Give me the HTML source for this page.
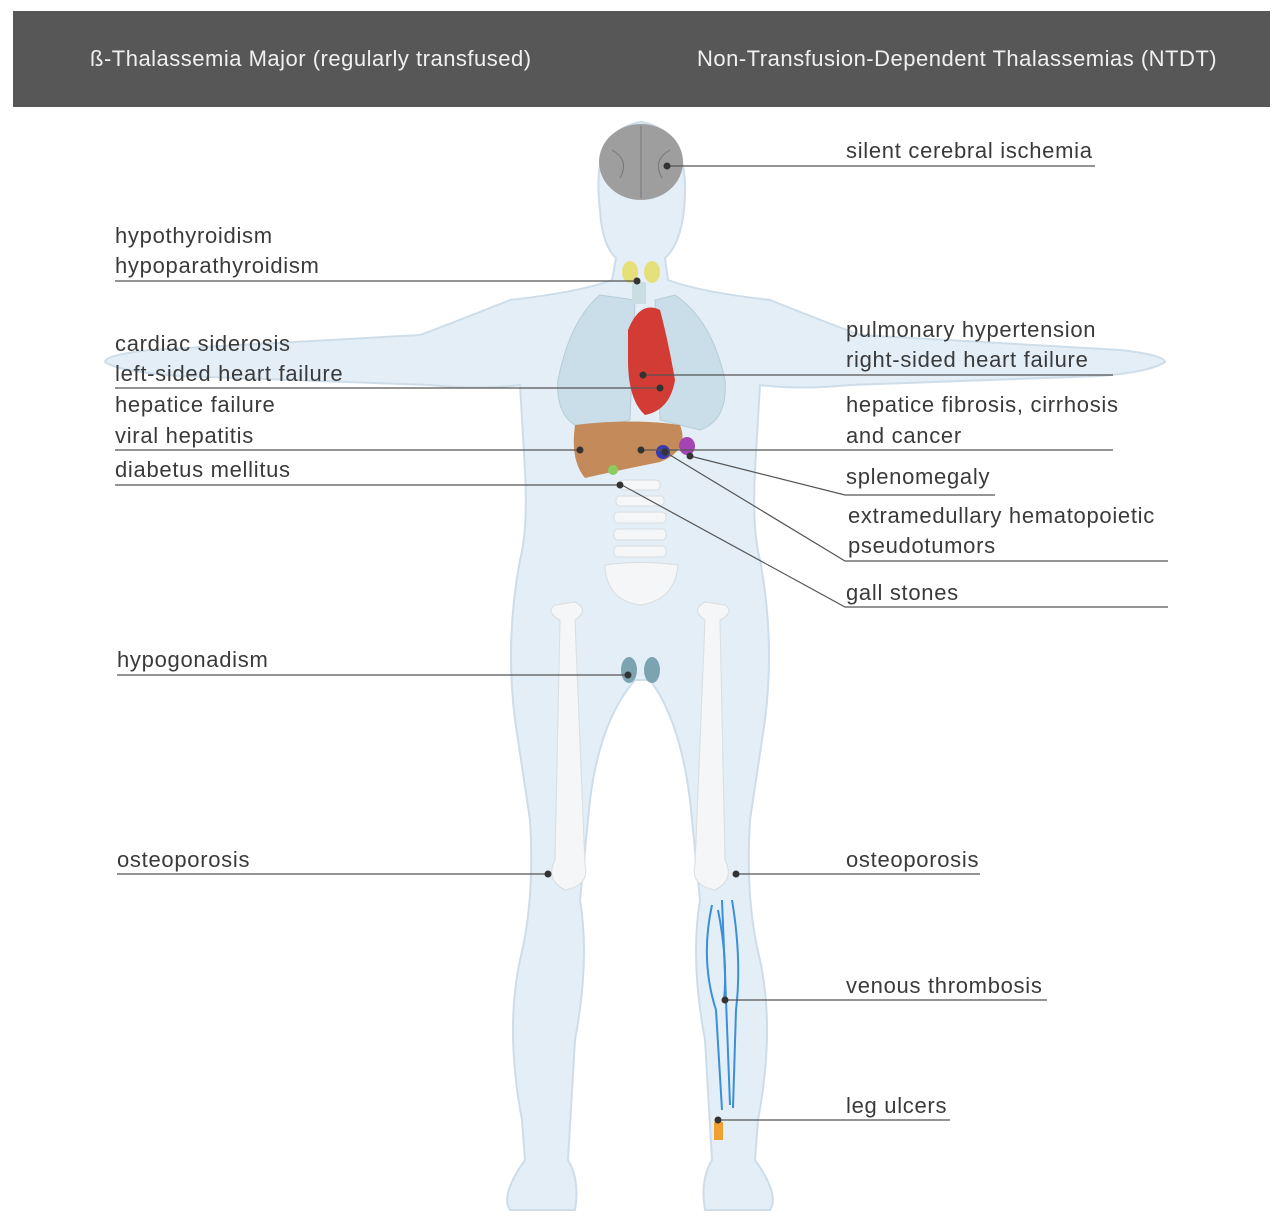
<!DOCTYPE html>
<html><head><meta charset="utf-8"><style>
html,body{margin:0;padding:0;background:#fff;width:1280px;height:1229px;overflow:hidden}
svg{display:block}
text{font-family:"Liberation Sans",sans-serif;fill:#3a3a3a;font-size:22px;letter-spacing:0.7px}
.h{fill:#f0f0f0;font-size:22px;letter-spacing:0.5px}
</style></head><body>
<svg width="1280" height="1229" viewBox="0 0 1280 1229">
<rect x="13" y="11" width="1257" height="96" fill="#575757"/>
<text class="h" x="90" y="66">ß-Thalassemia Major (regularly transfused)</text>
<text class="h" x="697" y="66">Non-Transfusion-Dependent Thalassemias (NTDT)</text>

<g fill="#e4eef6" stroke="#cddde9" stroke-width="2">
<path d="M600,210 Q590,130 641,122 Q692,130 684,210 Q680,245 665,258 L668,280 Q700,292 770,300 Q820,320 860,335 L1120,350 Q1165,355 1165,362 Q1150,372 1100,376 L850,385 Q800,390 760,385 L755,470 Q752,530 760,560 Q775,640 765,720 L750,820 Q745,900 760,960 Q775,1030 758,1120 L755,1160 Q780,1195 770,1210 L705,1210 Q700,1180 712,1160 L705,1040 Q690,960 700,900 L690,800 Q680,720 650,680 L635,680 Q600,720 590,800 L580,900 Q590,960 575,1040 L568,1160 Q580,1180 575,1210 L510,1210 Q500,1195 525,1160 L522,1120 Q505,1030 520,960 Q535,900 530,820 L515,720 Q505,640 520,560 Q528,530 525,470 L520,385 Q480,390 430,385 L180,376 Q120,372 105,362 Q105,355 150,350 L420,335 Q460,320 510,300 Q580,292 612,280 L616,258 Q602,245 600,210 Z"/>
</g>
<g fill="#c9dee8" stroke="#b5cdd8">
<path d="M600,295 Q570,320 558,380 Q555,420 585,430 L630,420 L635,300 Z"/>
<path d="M675,295 Q712,320 725,380 Q728,420 700,430 L660,420 L655,300 Z"/>
</g>
<rect x="632" y="282" width="14" height="22" fill="#c9dde2"/>
<ellipse cx="641" cy="162" rx="42" ry="38" fill="#9e9e9e"/>
<path d="M641,126 L641,198 M612,150 Q630,160 620,178 M670,150 Q652,160 662,178" stroke="#777" fill="none"/>
<ellipse cx="630" cy="272" rx="8" ry="11" fill="#e6e07a"/><ellipse cx="652" cy="272" rx="8" ry="11" fill="#e6e07a"/>
<path d="M628,330 Q640,300 660,310 Q668,340 675,380 Q670,410 645,415 Q628,400 628,360 Z" fill="#d33b35"/>
<path d="M575,425 Q630,418 680,425 Q690,450 660,462 Q620,470 585,478 Q570,460 575,425 Z" fill="#c48a5a"/>
<ellipse cx="663" cy="452" rx="7" ry="7" fill="#3a3ab0"/>
<ellipse cx="687" cy="446" rx="8" ry="9" fill="#a544b5"/>
<circle cx="613" cy="470" r="5" fill="#8ccc60"/>
<g fill="#f4f6f7" stroke="#d8dde0">
<rect x="620" y="480" width="40" height="10" rx="4"/><rect x="616" y="496" width="48" height="10" rx="4"/><rect x="614" y="512" width="52" height="11" rx="4"/><rect x="614" y="529" width="52" height="11" rx="4"/><rect x="614" y="546" width="52" height="11" rx="4"/>
<path d="M605,565 Q640,560 678,565 Q675,600 640,605 Q606,600 605,565 Z"/>
<path d="M555,605 Q545,612 560,620 L555,860 Q545,880 565,890 Q590,885 585,865 L575,620 Q590,610 575,602 Z"/>
<path d="M725,605 Q735,612 720,620 L725,860 Q735,880 715,890 Q690,885 695,865 L705,620 Q690,610 705,602 Z"/>
</g>
<ellipse cx="629" cy="670" rx="8" ry="13" fill="#7ba3b0"/><ellipse cx="652" cy="670" rx="8" ry="13" fill="#7ba3b0"/>
<g stroke="#3b8fd8" stroke-width="2" fill="none">
<path d="M712,905 Q700,960 716,1010 L722,1110"/><path d="M722,900 L726,1000 L730,1105"/><path d="M732,900 Q742,960 736,1010 L733,1108"/><path d="M718,910 Q728,960 724,1000"/>
</g>
<rect x="714" y="1122" width="9" height="18" fill="#f0a030"/>

<g stroke="#555" stroke-width="1.2" fill="none">
<path d="M115,281 H637"/><path d="M115,388 H660"/><path d="M115,450 H580"/><path d="M115,485 H620"/><path d="M117,675 H628"/><path d="M117,874 H548"/>
<path d="M667,166 H1095"/><path d="M643,375 H1113"/><path d="M641,450 H1113"/>
<path d="M690,456 L845,495 H995"/><path d="M665,452 L845,561 H1168"/><path d="M620,484 L845,607 H1168"/>
<path d="M736,874 H980"/><path d="M725,1000 H1047"/><path d="M718,1120 H950"/>
</g>
<g fill="#333">
<circle cx="637" cy="281" r="3.5"/><circle cx="660" cy="388" r="3.5"/><circle cx="580" cy="450" r="3.5"/><circle cx="620" cy="485" r="3.5"/><circle cx="628" cy="675" r="3.5"/><circle cx="548" cy="874" r="3.5"/>
<circle cx="667" cy="166" r="3.5"/><circle cx="643" cy="375" r="3.5"/><circle cx="641" cy="450" r="3.5"/><circle cx="690" cy="456" r="3.5"/><circle cx="665" cy="452" r="3.5"/>
<circle cx="736" cy="874" r="3.5"/><circle cx="725" cy="1000" r="3.5"/><circle cx="718" cy="1120" r="3.5"/>
</g>

<text x="115" y="243">hypothyroidism</text>
<text x="115" y="273">hypoparathyroidism</text>
<text x="115" y="351">cardiac siderosis</text>
<text x="115" y="381">left-sided heart failure</text>
<text x="115" y="412">hepatice failure</text>
<text x="115" y="443">viral hepatitis</text>
<text x="115" y="477">diabetus mellitus</text>
<text x="117" y="667">hypogonadism</text>
<text x="117" y="867">osteoporosis</text>
<text x="846" y="158">silent cerebral ischemia</text>
<text x="846" y="337">pulmonary hypertension</text>
<text x="846" y="367">right-sided heart failure</text>
<text x="846" y="412">hepatice fibrosis, cirrhosis</text>
<text x="846" y="443">and cancer</text>
<text x="846" y="484">splenomegaly</text>
<text x="848" y="523">extramedullary hematopoietic</text>
<text x="848" y="553">pseudotumors</text>
<text x="846" y="600">gall stones</text>
<text x="846" y="867">osteoporosis</text>
<text x="846" y="993">venous thrombosis</text>
<text x="846" y="1113">leg ulcers</text>
</svg>
</body></html>
